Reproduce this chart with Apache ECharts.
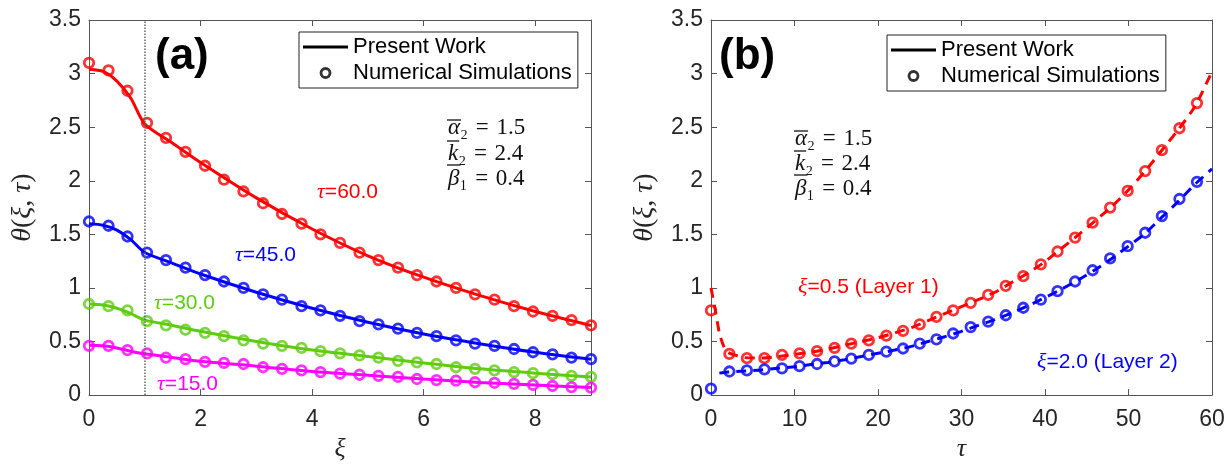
<!DOCTYPE html>
<html>
<head>
<meta charset="utf-8">
<script src="https://cdn.jsdelivr.net/npm/echarts@6.0.0/dist/echarts.min.js"></script>
<style>
  html, body { margin: 0; padding: 0; background: #fff; }
  #main { width: 1231px; height: 467px; }
</style>
</head>
<body>
<div id="main"></div>
<script>
// ---- panel (a): theta vs xi ----
var xiSim = [0, 0.35, 0.69, 1.04, 1.38, 1.73, 2.08, 2.42, 2.77, 3.12, 3.46, 3.81, 4.15, 4.5,
             4.85, 5.19, 5.54, 5.88, 6.23, 6.58, 6.92, 7.27, 7.62, 7.96, 8.31, 8.65, 9.0];
var simTau60 = [3.10, 3.03, 2.84, 2.54, 2.40, 2.27, 2.14, 2.01, 1.90, 1.79, 1.69, 1.60, 1.50, 1.42,
                1.33, 1.26, 1.19, 1.12, 1.06, 1.00, 0.94, 0.89, 0.83, 0.78, 0.74, 0.70, 0.65];
var simTau45 = [1.62, 1.58, 1.48, 1.33, 1.26, 1.19, 1.12, 1.06, 1.00, 0.94, 0.89, 0.83, 0.79, 0.74,
                0.69, 0.66, 0.62, 0.58, 0.55, 0.51, 0.48, 0.46, 0.43, 0.40, 0.38, 0.35, 0.335];
var simTau30 = [0.85, 0.83, 0.79, 0.69, 0.65, 0.61, 0.58, 0.55, 0.51, 0.48, 0.46, 0.44, 0.41, 0.39,
                0.37, 0.35, 0.32, 0.305, 0.29, 0.26, 0.245, 0.23, 0.215, 0.205, 0.195, 0.18, 0.17];
var simTau15 = [0.46, 0.46, 0.42, 0.39, 0.35, 0.335, 0.31, 0.30, 0.29, 0.26, 0.245, 0.23, 0.215, 0.20,
                0.19, 0.18, 0.17, 0.15, 0.14, 0.135, 0.12, 0.115, 0.105, 0.095, 0.085, 0.075, 0.07];

var xiLine = [0, 0.25, 0.5, 0.75, 1, 1.5, 2, 3, 4, 5, 6, 7, 8, 9];
var lineTau60 = [3.04, 3.02, 2.93, 2.77, 2.53, 2.35, 2.17, 1.84, 1.55, 1.30, 1.10, 0.93, 0.78, 0.65];
var lineTau45 = [1.60, 1.585, 1.54, 1.45, 1.33, 1.23, 1.13, 0.96, 0.81, 0.68, 0.57, 0.48, 0.40, 0.335];
var lineTau30 = [0.85, 0.84, 0.81, 0.76, 0.70, 0.65, 0.595, 0.50, 0.42, 0.36, 0.30, 0.245, 0.205, 0.17];
var lineTau15 = [0.465, 0.46, 0.44, 0.41, 0.385, 0.35, 0.315, 0.27, 0.22, 0.185, 0.15, 0.118, 0.095, 0.07];

// ---- panel (b): theta vs tau ----
var tauSim = [0, 2.2, 4.3, 6.4, 8.5, 10.6, 12.7, 14.8, 16.8, 18.9, 21.0, 23.0, 25.0, 27.0, 29.0,
              31.1, 33.2, 35.3, 37.4, 39.5, 41.5, 43.6, 45.7, 47.8, 49.9, 52.0, 54.0, 56.1, 58.2];
var simXi05 = [0.79, 0.385, 0.345, 0.345, 0.375, 0.39, 0.41, 0.44, 0.48, 0.51, 0.555, 0.60, 0.66, 0.73, 0.79,
               0.86, 0.935, 1.02, 1.11, 1.22, 1.34, 1.47, 1.61, 1.75, 1.905, 2.09, 2.285, 2.49, 2.725];
var simXi20 = [0.06, 0.22, 0.23, 0.24, 0.25, 0.27, 0.29, 0.315, 0.34, 0.375, 0.405, 0.435, 0.48, 0.52, 0.575,
               0.635, 0.685, 0.745, 0.815, 0.89, 0.97, 1.06, 1.165, 1.275, 1.39, 1.515, 1.67, 1.83, 1.99];

var tauLine05 = [0, 0.5, 1, 1.5, 2, 3, 4, 6, 8, 10, 12, 14, 16, 18, 20, 22, 24, 26, 28, 30,
                 32, 34, 36, 38, 40, 42, 44, 46, 48, 50, 52, 54, 56, 58, 60];
var lineXi05 = [1.0, 0.80, 0.58, 0.46, 0.40, 0.37, 0.35, 0.345, 0.36, 0.38, 0.40, 0.43, 0.465, 0.50, 0.535,
                0.58, 0.63, 0.695, 0.76, 0.825, 0.89, 0.96, 1.05, 1.14, 1.245, 1.37, 1.495, 1.625, 1.76,
                1.915, 2.09, 2.285, 2.48, 2.70, 3.02];
var tauLine20 = [1, 2, 4, 6, 8, 10, 12, 14, 16, 18, 20, 22, 24, 26, 28, 30,
                 32, 34, 36, 38, 40, 42, 44, 46, 48, 50, 52, 54, 56, 58, 60];
var lineXi20 = [0.205, 0.215, 0.225, 0.235, 0.25, 0.265, 0.285, 0.305, 0.33, 0.36, 0.39, 0.42, 0.455, 0.50,
                0.545, 0.595, 0.65, 0.705, 0.765, 0.835, 0.91, 0.99, 1.075, 1.17, 1.275, 1.39, 1.51,
                1.66, 1.81, 1.97, 2.11];

var yTicks = [0, 3.5, 0.5];   // min, max, step

var RED = '#ff0000', BLUE = '#0000ff', GREEN = '#5fcc10', MAGENTA = '#ff00ff';
var AXIS = '#555', TXT = '#262626';
var SANS = '"Liberation Sans", Arial, sans-serif';
var SERIF = '"Liberation Serif", "DejaVu Serif", serif';

function pairs(xs, ys) {
  var out = [];
  for (var i = 0; i < ys.length; i++) out.push([xs[i], ys[i]]);
  return out;
}

function curve(grid, xs, ys, color, dashed) {
  return {
    type: 'line', xAxisIndex: grid * 2, yAxisIndex: grid * 2,
    data: pairs(xs, ys), symbol: 'none', smooth: 0.25, z: 2,
    lineStyle: { color: color, width: 3, type: dashed ? [10, 7] : 'solid' }
  };
}

function dots(grid, xs, ys, color) {
  return {
    type: 'scatter', xAxisIndex: grid * 2, yAxisIndex: grid * 2,
    data: pairs(xs, ys), symbol: 'circle', symbolSize: 9.5, z: 3,
    itemStyle: { color: 'rgba(0,0,0,0)', borderColor: color, borderWidth: 2.8 }
  };
}

// bottom/left axes carry labels, top/right just close the box
function xAxes(grid, max, step, showMax) {
  var base = {
    gridIndex: grid, type: 'value', min: 0, max: max, interval: step,
    axisLine: { show: true, onZero: false, lineStyle: { color: AXIS, width: 1 } },
    axisTick: { show: true, inside: true, length: 6, lineStyle: { color: AXIS } },
    splitLine: { show: false }
  };
  var bottom = Object.assign({}, base, {
    position: 'bottom',
    name: grid === 0 ? 'ξ' : 'τ', nameLocation: 'middle', nameGap: 40,
    nameTextStyle: { fontFamily: SERIF, fontStyle: 'italic', fontSize: 26, color: TXT },
    axisLabel: { fontFamily: SANS, fontSize: 23, color: TXT, margin: 13, showMaxLabel: showMax }
  });
  var top = Object.assign({}, base, { position: 'top', axisLabel: { show: false } });
  return [bottom, top];
}

function yAxes(grid) {
  var base = {
    gridIndex: grid, type: 'value', min: yTicks[0], max: yTicks[1], interval: yTicks[2],
    axisLine: { show: true, onZero: false, lineStyle: { color: AXIS, width: 1 } },
    axisTick: { show: true, inside: true, length: 6, lineStyle: { color: AXIS } },
    splitLine: { show: false }
  };
  var left = Object.assign({}, base, {
    position: 'left',
    name: '{i|θ}{n|(}{i|ξ}{n|, }{i|τ}{n|)}', nameLocation: 'middle', nameGap: 52, nameRotate: 90,
    nameTextStyle: {
      color: TXT,
      rich: {
        i: { fontFamily: SERIF, fontStyle: 'italic', fontSize: 28, color: TXT },
        n: { fontFamily: SERIF, fontSize: 28, color: TXT }
      }
    },
    axisLabel: { fontFamily: SANS, fontSize: 23, color: TXT, margin: 8 }
  });
  var right = Object.assign({}, base, { position: 'right', axisLabel: { show: false } });
  return [left, right];
}

var xAxisList = xAxes(0, 9, 2, false).concat(xAxes(1, 60, 10, true));
var yAxisList = yAxes(0).concat(yAxes(1));

var series = [
  curve(0, xiLine, lineTau60, RED, false),
  curve(0, xiLine, lineTau45, BLUE, false),
  curve(0, xiLine, lineTau30, GREEN, false),
  curve(0, xiLine, lineTau15, MAGENTA, false),
  dots(0, xiSim, simTau60, RED),
  dots(0, xiSim, simTau45, BLUE),
  dots(0, xiSim, simTau30, GREEN),
  dots(0, xiSim, simTau15, MAGENTA),
  curve(1, tauLine05, lineXi05, RED, true),
  curve(1, tauLine20, lineXi20, BLUE, true),
  dots(1, tauSim, simXi05, RED),
  dots(1, tauSim, simXi20, BLUE),
  // legend-only entries
  { type: 'line', name: 'Present Work', xAxisIndex: 0, yAxisIndex: 0, data: [], symbol: 'none',
    lineStyle: { color: '#000', width: 3 }, itemStyle: { color: '#000' } },
  { type: 'scatter', name: 'Numerical Simulations', xAxisIndex: 0, yAxisIndex: 0, data: [],
    symbol: 'circle', symbolSize: 9,
    itemStyle: { color: 'rgba(0,0,0,0)', borderColor: '#000', borderWidth: 2.5 } }
];

// dotted interface line at xi = 1
series[0].markLine = {
  silent: true, symbol: 'none', label: { show: false },
  lineStyle: { type: 'dotted', color: '#666', width: 1.5 },
  data: [{ xAxis: 1 }]
};

function legendAt(left, top) {
  return {
    left: left, top: top, orient: 'vertical', selectedMode: false,
    data: [
      { name: 'Present Work', icon: 'path://M0 0H45V3H0Z', itemStyle: { color: '#000', borderWidth: 0 } },
      { name: 'Numerical Simulations', icon: 'circle',
        itemStyle: { color: 'rgba(0,0,0,0)', borderColor: '#000', borderWidth: 2.8 } }
    ],
    itemWidth: 45, itemHeight: 9, itemGap: 2,
    padding: [3, 6, 3, 4],
    borderColor: '#222', borderWidth: 1, backgroundColor: '#fff',
    textStyle: { fontFamily: SANS, fontSize: 22, color: '#000', lineHeight: 24 }
  };
}

function label(x, y, sym, rest, color) {
  return {
    type: 'text', x: x, y: y, z: 10,
    style: {
      text: '{t|' + sym + '}{n|' + rest + '}', verticalAlign: 'middle',
      rich: {
        t: { fontFamily: SERIF, fontStyle: 'italic', fontSize: 22, fill: color },
        n: { fontFamily: SANS, fontSize: 21, fill: color }
      }
    }
  };
}

// width of a string, used to size the bar over the parameter symbols
var measureCtx = document.createElement('canvas').getContext('2d');
function textWidth(str, font) {
  measureCtx.font = font;
  return measureCtx.measureText(str).width;
}

var PARAM_SIZE = 23;
// symbol, subscript, value, how far above the line centre the bar sits
function param(x, y, sym, sub, val, barUp) {
  var w = textWidth(sym, 'italic ' + PARAM_SIZE + 'px ' + SERIF);
  return [{
    type: 'text', x: x, y: y, z: 10,
    style: {
      text: '{s|' + sym + '}{b|' + sub + '}{n|\u2004=\u2004' + val + '}', verticalAlign: 'middle',
      rich: {
        s: { fontFamily: SERIF, fontStyle: 'italic', fontSize: PARAM_SIZE, fill: '#111' },
        b: { fontFamily: SERIF, fontSize: PARAM_SIZE, fill: '#111' },
        n: { fontFamily: SERIF, fontSize: PARAM_SIZE, fill: '#111' }
      }
    }
  }, {
    type: 'line', z: 10,
    shape: { x1: x - 1, y1: y - barUp, x2: x + w + 1, y2: y - barUp },
    style: { stroke: '#111', lineWidth: 1.3 }
  }];
}

function panelTag(x, y, txt) {
  return {
    type: 'text', x: x, y: y, z: 10,
    style: { text: txt, fontFamily: SANS, fontWeight: 'bold', fontSize: 44, fill: '#000', verticalAlign: 'middle' }
  };
}

var graphics = [
  panelTag(155, 57, '(a)'),
  panelTag(719, 57, '(b)'),
  label(317, 192, 'τ', '=60.0', RED),
  label(235, 255, 'τ', '=45.0', BLUE),
  label(154, 303, 'τ', '=30.0', GREEN),
  label(157, 384, 'τ', '=15.0', MAGENTA),
  label(798, 287, 'ξ', '=0.5 (Layer 1)', RED),
  label(1037, 362, 'ξ', '=2.0 (Layer 2)', BLUE)
].concat(
  param(448, 128, 'α', '₂', '1.5', 8),
  param(448, 154, 'k', '₂', '2.4', 13),
  param(448, 179, 'β', '₁', '0.4', 14),
  param(795, 139, 'α', '₂', '1.5', 8),
  param(795, 164, 'k', '₂', '2.4', 13),
  param(795, 189, 'β', '₁', '0.4', 14)
);

var chart = echarts.init(document.getElementById('main'));
chart.setOption({
  animation: false,
  backgroundColor: '#fff',
  grid: [
    { left: 89, top: 20, width: 502, height: 379 },
    { left: 711, top: 20, width: 501, height: 379 }
  ],
  xAxis: xAxisList,
  yAxis: yAxisList,
  legend: [legendAt(299, 32), legendAt(887, 35)],
  series: series,
  graphic: graphics
});
</script>
</body>
</html>
